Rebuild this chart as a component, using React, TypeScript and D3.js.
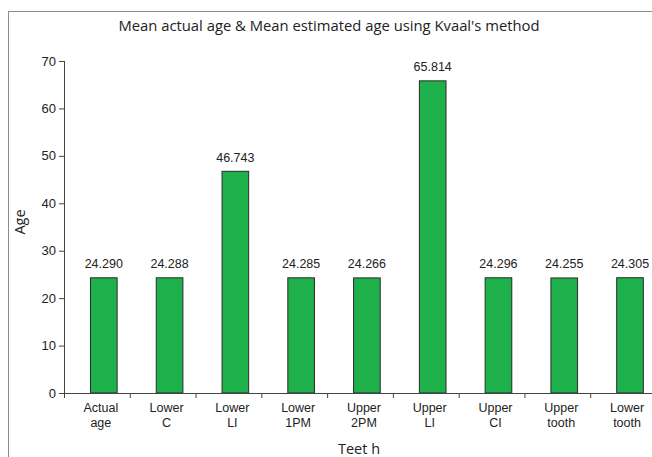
import * as d3 from 'd3';
import { type FC } from 'react';

const categories: string[][] = [
  ['Actual', 'age'],
  ['Lower', 'C'],
  ['Lower', 'LI'],
  ['Lower', '1PM'],
  ['Upper', '2PM'],
  ['Upper', 'LI'],
  ['Upper', 'CI'],
  ['Upper', 'tooth'],
  ['Lower', 'tooth'],
];
const meanAge: number[] = [24.29, 24.288, 46.743, 24.285, 24.266, 65.814, 24.296, 24.255, 24.305];
const yTicks: number[] = [0, 10, 20, 30, 40, 50, 60, 70];

const width = 652;
const height = 457;
const marginTop = 61;
const marginLeft = 64;
const axisBottom = 393;
const plotRight = 656;

const numFont = '"Liberation Sans", Arial, sans-serif';
const titleFont = '"Open Sans", "Noto Sans", sans-serif';

const App: FC = () => {
  const keys = categories.map((c) => c.join(' '));
  const x = d3.scaleBand<string>().domain(keys).range([marginLeft, plotRight]).padding(0);
  const y = d3.scaleLinear().domain([0, 70]).range([axisBottom, marginTop]);
  const bw = x.bandwidth();
  const barW = bw * 0.405;
  const shift = bw * 0.105;

  return (
    <svg
      width={width}
      height={height}
      viewBox={`0 0 ${width} ${height}`}
      style={{ position: 'absolute', left: 0, top: 0, background: '#fff' }}
    >
      <rect x={8.5} y={11.5} width={700} height={500} fill='#fff' stroke='#8c8c8c' strokeWidth={1} />
      <text
        x={329}
        y={31}
        textAnchor='middle'
        fontFamily={titleFont}
        fontSize={14.8}
        fill='#222'
      >
        Mean actual age &amp; Mean estimated age using Kvaal's method
      </text>

      {/* y axis */}
      <line x1={marginLeft + 0.5} x2={marginLeft + 0.5} y1={y(70)} y2={y(0)} stroke='#444' />
      {yTicks.map((t) => (
        <g key={t}>
          <line x1={marginLeft - 5} x2={marginLeft} y1={y(t) + 0.5} y2={y(t) + 0.5} stroke='#444' />
          <text
            x={marginLeft - 8}
            y={y(t)}
            dy='0.35em'
            textAnchor='end'
            fontFamily={numFont}
            fontSize={13}
            fill='#222'
          >
            {t}
          </text>
        </g>
      ))}
      <text
        transform={`translate(25, ${(y(0) + y(70)) / 2 - 5}) rotate(-90)`}
        textAnchor='middle'
        fontFamily={titleFont}
        fontSize={14.5}
        fill='#222'
      >
        Age
      </text>

      {/* bars */}
      {meanAge.map((v, i) => {
        const cx = (x(keys[i]) ?? 0) + bw / 2 + shift;
        return (
          <g key={keys[i]}>
            <rect
              x={cx - barW / 2}
              y={y(v)}
              width={barW}
              height={y(0) - y(v)}
              fill='#1db04b'
              stroke='#2a2a2a'
              strokeWidth={1}
            />
            <text
              x={cx}
              y={y(v) - 14}
              dy='0.35em'
              textAnchor='middle'
              fontFamily={numFont}
              fontSize={12.5}
              fill='#222'
            >
              {v.toFixed(3)}
            </text>
          </g>
        );
      })}

      {/* x axis */}
      <line x1={marginLeft} x2={plotRight} y1={axisBottom + 0.5} y2={axisBottom + 0.5} stroke='#444' />
      {keys.map((k) => (
        <line
          key={k}
          x1={(x(k) ?? 0) + 0.5}
          x2={(x(k) ?? 0) + 0.5}
          y1={axisBottom}
          y2={axisBottom + 5}
          stroke='#444'
        />
      ))}
      {categories.map((c, i) => {
        const cx = (x(keys[i]) ?? 0) + bw / 2 + bw * 0.06;
        return (
          <text
            key={keys[i]}
            x={cx}
            textAnchor='middle'
            fontFamily={numFont}
            fontSize={12.5}
            fill='#222'
          >
            <tspan x={cx} y={412}>
              {c[0]}
            </tspan>
            <tspan x={cx} y={427}>
              {c[1]}
            </tspan>
          </text>
        );
      })}
      <text
        x={359}
        y={454}
        textAnchor='middle'
        fontFamily={titleFont}
        fontSize={14.5}
        fill='#222'
      >
        Teet h
      </text>
    </svg>
  );
};

export default App;
